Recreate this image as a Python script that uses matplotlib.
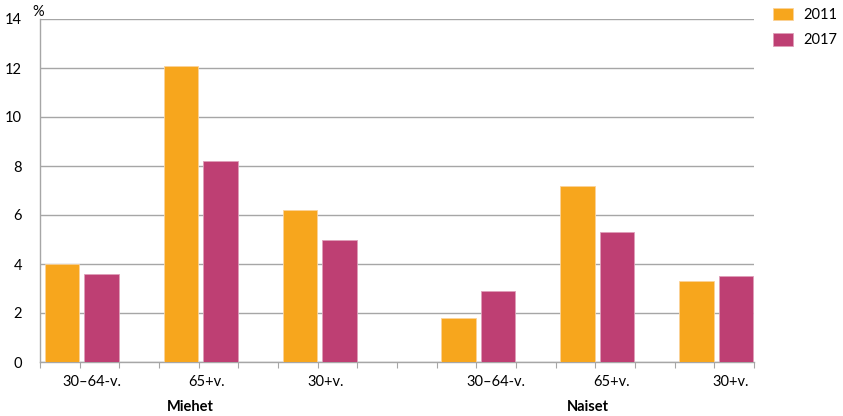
import numpy as np
import matplotlib.pyplot as plt

# data
groups = ["Miehet", "Naiset"]
ages = ["30\u201364-v.", "65+v.", "30+v."]
years = ["2011", "2017"]
val_2011 = [4.0, 12.1, 6.2, 1.8, 7.2, 3.3]
val_2017 = [3.6, 8.2, 5.0, 2.9, 5.3, 3.5]

col_2011 = "#F7A61D"
col_2017 = "#BE3F73"
gridcol = "#A6A6A6"

plt.rcParams['font.family'] = ['Lato', 'DejaVu Sans']
fs = 10.5

fig = plt.figure(figsize=(8.43, 4.16), dpi=100)
ax = fig.add_axes([40/843, 1-362/416, 714/843, 343/416])

# each category takes 3 slots (2011, 2017, gap), one extra gap between the groups
n = len(val_2011)
slot = np.array([3*i + (1 if i >= 3 else 0) for i in range(n)])
w = 0.86
ax.bar(slot + 0.55, val_2011, width=w, color=col_2011, edgecolor="#FBD39A", linewidth=0.6, zorder=3, label=years[0])
ax.bar(slot + 1.55, val_2017, width=w, color=col_2017, edgecolor="#DE9FB9", linewidth=0.6, zorder=3, label=years[1])

ax.set_xlim(0, 18)
ax.set_ylim(0, 14)
ax.set_yticks(np.arange(0, 15, 2))
ax.yaxis.grid(True, color=gridcol, linewidth=1.0, zorder=0)
ax.set_xticks(np.arange(0, 19))
ax.set_xticklabels([])
ax.tick_params(axis='x', length=4, color=gridcol, direction='out')
ax.tick_params(axis='y', length=0, labelsize=fs, pad=13)
for s in ["top", "right"]:
    ax.spines[s].set_visible(False)
for s in ["left", "bottom"]:
    ax.spines[s].set_color(gridcol)
    ax.spines[s].set_linewidth(1.0)

# category labels, a bit right of the bar pairs as in the original
offs = [0.3, 0.2, 0.2, 0.5, 0.4, 0.4]
for i in range(n):
    ax.text(slot[i] + 1 + offs[i], -0.82, ages[i % 3], ha='center', va='center', fontsize=fs)
ax.text(3.8, -1.85, groups[0], ha='center', va='center', fontsize=fs, fontweight='bold')
ax.text(13.8, -1.85, groups[1], ha='center', va='center', fontsize=fs, fontweight='bold')

ax.text(-0.18, 14.12, "%", ha='left', va='baseline', fontsize=fs)

fig.legend(loc='upper left', bbox_to_anchor=(767/843, 1-2/416), frameon=False,
           fontsize=fs, handlelength=1.37, handleheight=0.95, labelspacing=0.75,
           handletextpad=0.7, borderpad=0.4, borderaxespad=0)

fig.savefig("out.png", dpi=100)
